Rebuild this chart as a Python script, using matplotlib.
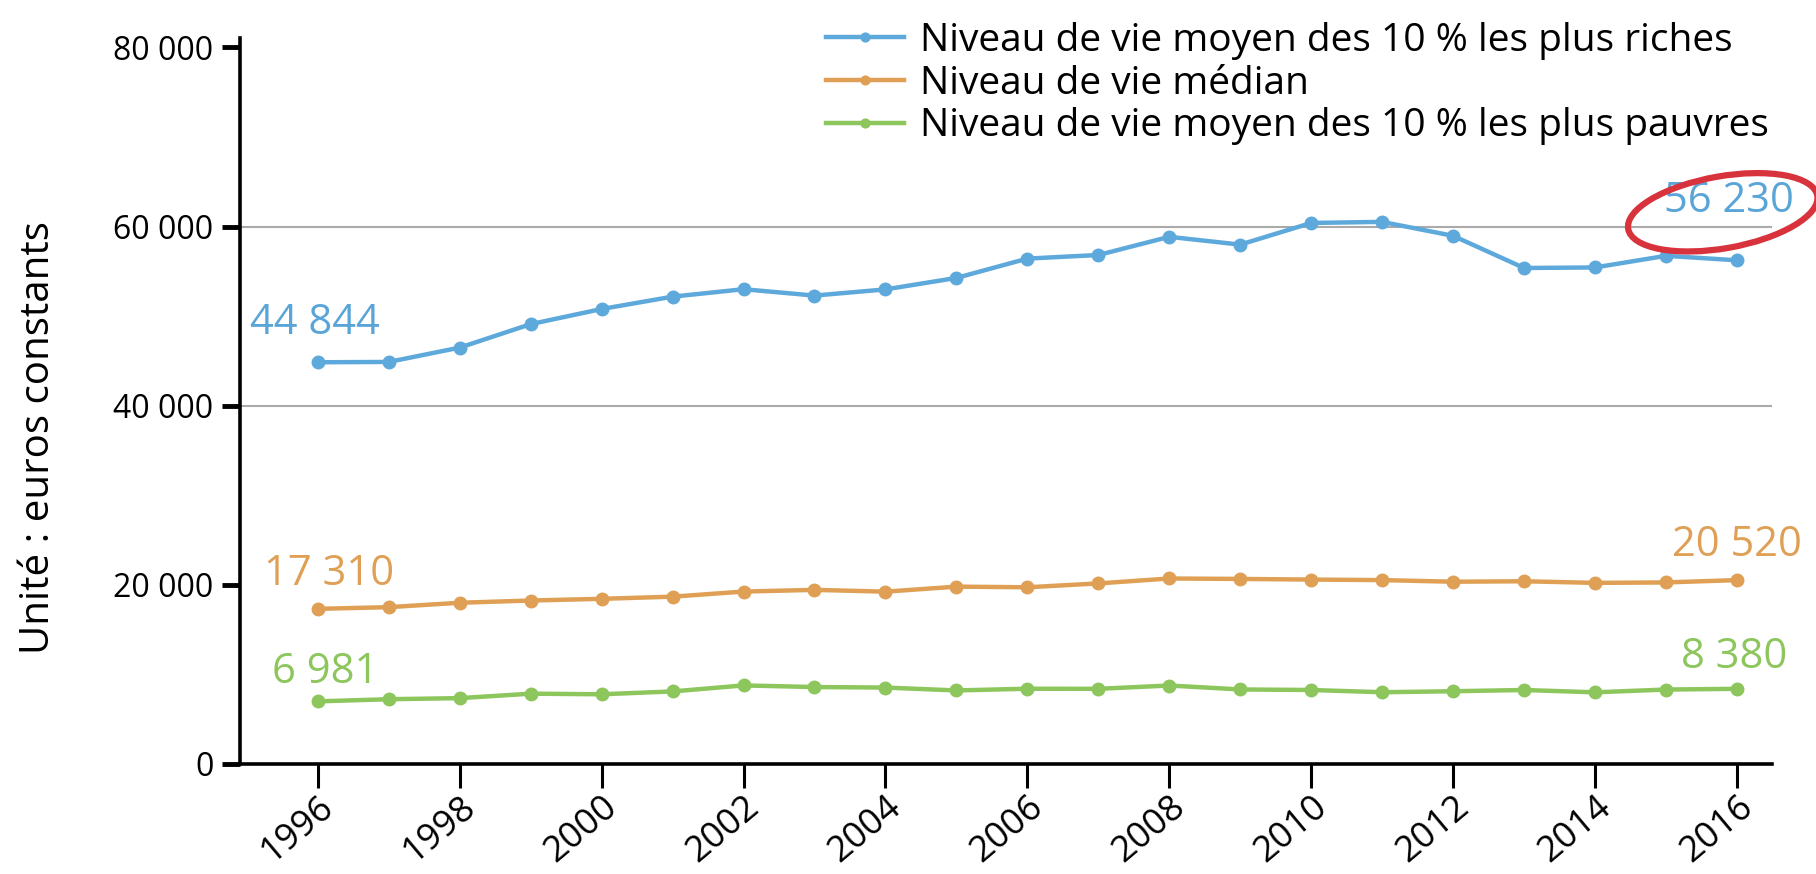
import numpy as np
import matplotlib
matplotlib.use('Agg')
import matplotlib.pyplot as plt
from matplotlib.patches import Ellipse
from matplotlib.transforms import ScaledTranslation

plt.rcParams['font.family'] = ['Open Sans', 'DejaVu Sans']

# ── Data (euros constants) ────────────────────────────────────────────────────
years = list(range(1996, 2017))
riches = [44844, 44880, 46480, 49100, 50790, 52170, 53000, 52290, 52980, 54260,
          56420, 56820, 58850, 57980, 60400, 60520, 58960, 55370, 55430, 56730,
          56230]
median = [17310, 17500, 17990, 18240, 18430, 18670, 19240, 19430, 19230, 19790,
          19720, 20150, 20700, 20650, 20580, 20520, 20340, 20390, 20210, 20260,
          20520]
pauvres = [6981, 7220, 7340, 7840, 7770, 8090, 8760, 8580, 8520, 8200,
           8390, 8380, 8750, 8310, 8250, 8000, 8110, 8250, 7990, 8300,
           8380]

labels = ['Niveau de vie moyen des 10 % les plus riches',
          'Niveau de vie médian',
          'Niveau de vie moyen des 10 % les plus pauvres']
colors = ['#5ea9db', '#dfa055', '#8dc65c']
yticks = [0, 20000, 40000, 60000, 80000]
ytick_labels = ['0', '20 000', '40 000', '60 000', '80 000']
xticks = list(range(1996, 2017, 2))


def fmt(v):
    return f'{v:,}'.replace(',', ' ')


# ── Plot ──────────────────────────────────────────────────────────────────────
fig = plt.figure(figsize=(18.16, 8.74), dpi=100)
ax = fig.add_axes([0.132, 0.126, 0.844, 0.83])

# faint horizontal rules
for yv in (40000, 60000):
    ax.axhline(yv, color='#aaaaaa', lw=1.5, zorder=0)

series = [riches, median, pauvres]
for vals, col, lab in zip(series, colors, labels):
    ax.plot(years, vals, color=col, lw=3.2, marker='o', ms=9, label=lab,
            zorder=3)

# first / last value labels  (series, colour, first offset, last offset)
ann = [(riches, '#5aa5d8', (-2, 28), (-6, 43)),
       (median, colors[1], (8, 25), (0, 25)),
       (pauvres, colors[2], (5, 21), (-2, 23))]
for vals, col, off0, off1 in ann:
    for i, off in ((0, off0), (-1, off1)):
        ax.annotate(fmt(vals[i]), xy=(years[i], vals[i]), xytext=off,
                    textcoords='offset points', ha='center', va='center',
                    color=col, fontsize=30)

# red hand-drawn loop round the last value
loop_tr = fig.dpi_scale_trans + ScaledTranslation(2015.8, riches[-1],
                                                  ax.transData)
ax.add_patch(Ellipse((0.0, 0.48), 1.92, 0.72, angle=10, fill=False,
                     edgecolor='#d8323c', lw=4.5, transform=loop_tr,
                     clip_on=False, zorder=5))

# axes
ax.set_xlim(1994.9, 2016.5)
ax.set_ylim(0, 81000)
for s in ('top', 'right'):
    ax.spines[s].set_visible(False)
for s in ('left', 'bottom'):
    ax.spines[s].set_linewidth(2.6)
ax.set_yticks(yticks)
ax.set_yticklabels(ytick_labels, fontsize=23)
ax.set_xticks(xticks)
ax.set_xticklabels([str(x) for x in xticks], fontsize=26, rotation=40,
                   ha='right', rotation_mode='anchor')
shift = ScaledTranslation(0.15, 0, fig.dpi_scale_trans)
for lbl in ax.get_xticklabels():
    lbl.set_transform(lbl.get_transform() + shift)
ax.tick_params(axis='y', length=13, width=3.5, pad=6)
ax.tick_params(axis='x', length=17, width=2.2, pad=1)
ax.set_ylabel('Unité : euros constants', fontsize=29)
ax.yaxis.set_label_coords(-0.118, 0.45)

ax.legend(loc='upper left', bbox_to_anchor=(0.455, 0.975),
          bbox_transform=fig.transFigure, frameon=False, fontsize=28,
          handlelength=2.0, handletextpad=0.4, labelspacing=0.12,
          borderpad=0.0, borderaxespad=0.0, numpoints=1, markerscale=0.7)

fig.savefig('out.png', dpi=100)
plt.close(fig)
